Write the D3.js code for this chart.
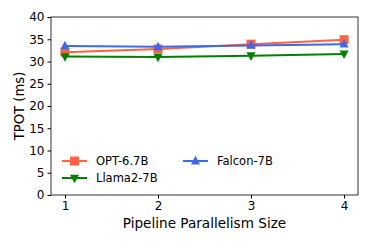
<!DOCTYPE html>
<html>
<head>
<meta charset="utf-8">
<script src="https://cdn.jsdelivr.net/npm/d3@7"></script>
<style>
body{margin:0;background:#fff;}
text{font-family:"DejaVu Sans",sans-serif;fill:#000;}
</style>
</head>
<body>
<svg id="chart"></svg>
<script>
const sizes = [1, 2, 3, 4];
const optVals = [32.1, 32.8, 33.9, 34.9];
const llamaVals = [31.1, 31.0, 31.3, 31.7];
const falconVals = [33.5, 33.3, 33.6, 33.9];
const yTicks = [0, 5, 10, 15, 20, 25, 30, 35, 40];

const series = [
    {name: 'OPT-6.7B', values: optVals, color: '#ff6347', marker: 'square'},
    {name: 'Llama2-7B', values: llamaVals, color: '#008000', marker: 'down'},
    {name: 'Falcon-7B', values: falconVals, color: '#4169e1', marker: 'up'}
];

const width = 372, height = 244;
const margin = {top: 17, right: 14, bottom: 49, left: 51};

const svg = d3.select('#chart').attr('width', width).attr('height', height);

const x = d3.scaleLinear().domain([0.85, 4.15]).range([margin.left, width - margin.right]);
const y = d3.scaleLinear().domain([0, 40]).range([height - margin.bottom, margin.top]);

function markerPath(type, s) {
    if (type === 'square') return `M${-s},${-s}H${s}V${s}H${-s}Z`;
    if (type === 'up') return `M0,${-s*1.15}L${s},${s*0.75}L${-s},${s*0.75}Z`;
    return `M0,${s*1.15}L${s},${-s*0.75}L${-s},${-s*0.75}Z`;
}

// axes
svg.append('g')
    .attr('transform', `translate(0,${height - margin.bottom})`)
    .call(d3.axisBottom(x).tickValues(sizes).tickFormat(d3.format('d')).tickSize(3.5).tickPadding(3))
    .call(g => g.select('.domain').remove())
    .call(g => g.selectAll('text').attr('font-size', 12));

svg.append('g')
    .attr('transform', `translate(${margin.left},0)`)
    .call(d3.axisLeft(y).tickValues(yTicks).tickSize(3.5).tickPadding(3))
    .call(g => g.select('.domain').remove())
    .call(g => g.selectAll('text').attr('font-size', 12));

svg.append('rect')
    .attr('x', margin.left).attr('y', margin.top)
    .attr('width', width - margin.right - margin.left)
    .attr('height', height - margin.bottom - margin.top)
    .attr('fill', 'none').attr('stroke', '#000').attr('stroke-width', 0.8);

// lines
const line = d3.line().x((d, i) => x(sizes[i])).y(d => y(d));
const order = [series[0], series[2], series[1]];
order.forEach(s => {
    svg.append('path')
        .datum(s.values)
        .attr('d', line)
        .attr('fill', 'none')
        .attr('stroke', s.color)
        .attr('stroke-width', 2);
    svg.append('g').selectAll('path')
        .data(s.values)
        .join('path')
        .attr('transform', (d, i) => `translate(${x(sizes[i])},${y(d)})`)
        .attr('d', markerPath(s.marker, 4.5))
        .attr('fill', s.color);
});

// axis labels
svg.append('text')
    .attr('x', (margin.left + width - margin.right) / 2)
    .attr('y', 228)
    .attr('text-anchor', 'middle')
    .attr('font-size', 13.6)
    .text('Pipeline Parallelism Size');

svg.append('text')
    .attr('transform', `translate(24,${(margin.top + height - margin.bottom) / 2}) rotate(-90)`)
    .attr('text-anchor', 'middle')
    .attr('font-size', 13.2)
    .text('TPOT (ms)');

// legend
const legendPos = [
    {s: series[0], lx: 62, ly: 161},
    {s: series[1], lx: 62, ly: 178},
    {s: series[2], lx: 183, ly: 161}
];
legendPos.forEach(p => {
    const g = svg.append('g').attr('transform', `translate(${p.lx},${p.ly})`);
    g.append('line').attr('x1', 0).attr('x2', 25).attr('stroke', p.s.color).attr('stroke-width', 2);
    g.append('path').attr('transform', 'translate(12.5,0)').attr('d', markerPath(p.s.marker, 4.5)).attr('fill', p.s.color);
    g.append('text').attr('x', 34).attr('dy', '0.35em').attr('font-size', 11.5).text(p.s.name);
});
</script>
</body>
</html>
